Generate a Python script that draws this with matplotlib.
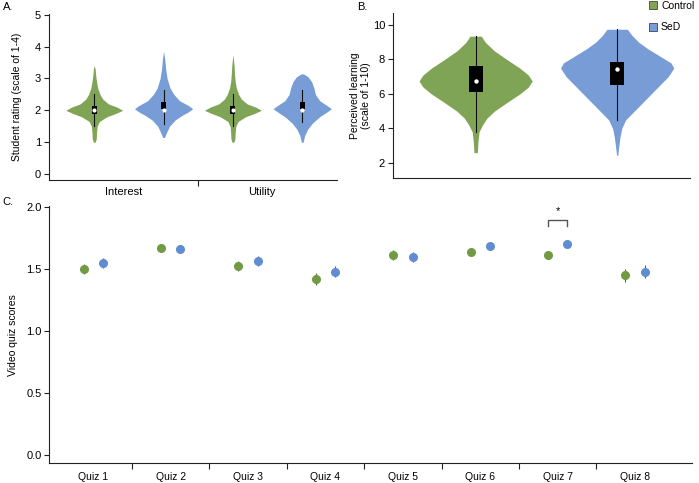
import numpy as np
import matplotlib
matplotlib.use("Agg")
import matplotlib.pyplot as plt
from matplotlib.lines import Line2D

plt.rcParams['font.family'] = ['Liberation Sans', 'DejaVu Sans']

GREEN = "#80a455"
BLUE = "#779cd6"
GREEN_DOT = "#729a44"
BLUE_DOT = "#5f8dd0"
GREEN_ERR = "#4f6e2a"
BLUE_ERR = "#3c5f97"

# ---------------- Panel A data (violin profiles) ----------------
a_groups = ["Interest", "Utility"]
a_positions = [0, 1, 2, 3]
a_colors = [GREEN, BLUE, GREEN, BLUE]
a_max_halfwidth = [0.41, 0.42, 0.41, 0.42]
# profile y-values and relative half-widths
a_prof_y = [
    [1.0, 1.1, 1.3, 1.5, 1.65, 1.8, 1.9, 2.0, 2.1, 2.2, 2.35, 2.5, 2.7, 2.9, 3.1, 3.3, 3.4],
    [1.15, 1.3, 1.5, 1.7, 1.85, 1.95, 2.05, 2.15, 2.3, 2.5, 2.7, 3.0, 3.3, 3.6, 3.85],
    [1.0, 1.1, 1.3, 1.5, 1.65, 1.8, 1.9, 2.0, 2.1, 2.2, 2.35, 2.5, 2.7, 2.9, 3.1, 3.4, 3.75],
    [1.0, 1.2, 1.4, 1.6, 1.8, 1.95, 2.05, 2.15, 2.3, 2.5, 2.7, 2.9, 3.05, 3.12, 3.15],
]
a_prof_w = [
    [0.03, 0.07, 0.08, 0.1, 0.18, 0.45, 0.75, 1.0, 0.8, 0.5, 0.3, 0.2, 0.12, 0.08, 0.05, 0.03, 0.0],
    [0.03, 0.1, 0.2, 0.4, 0.65, 0.85, 1.0, 0.85, 0.55, 0.35, 0.22, 0.12, 0.07, 0.04, 0.0],
    [0.03, 0.07, 0.08, 0.1, 0.18, 0.45, 0.75, 1.0, 0.8, 0.5, 0.3, 0.2, 0.12, 0.08, 0.06, 0.04, 0.0],
    [0.03, 0.08, 0.18, 0.35, 0.6, 0.85, 1.0, 0.85, 0.6, 0.45, 0.4, 0.32, 0.2, 0.08, 0.0],
]
a_q1 = [1.88, 2.05, 1.88, 2.05]
a_q3 = [2.15, 2.26, 2.15, 2.26]
a_med = [2.0, 2.0, 2.0, 2.0]
a_wlo = [1.5, 1.58, 1.5, 1.63]
a_whi = [2.5, 2.65, 2.5, 2.65]

# ---------------- Panel B data ----------------
b_positions = [0, 1]
b_colors = [GREEN, BLUE]
b_max_halfwidth = [0.40, 0.40]
b_prof_y = [
    [2.6, 3.2, 3.8, 4.2, 4.6, 5.0, 5.5, 6.0, 6.4, 6.75, 7.1, 7.5, 8.0, 8.5, 9.0, 9.35],
    [2.45, 3.0, 3.5, 4.0, 4.5, 5.0, 5.5, 6.0, 6.5, 7.0, 7.5, 7.8, 8.2, 8.6, 9.0, 9.4, 9.75],
]
b_prof_w = [
    [0.03, 0.04, 0.06, 0.12, 0.2, 0.33, 0.55, 0.78, 0.93, 1.0, 0.93, 0.78, 0.55, 0.33, 0.17, 0.1],
    [0.01, 0.03, 0.05, 0.08, 0.15, 0.3, 0.45, 0.6, 0.75, 0.9, 1.0, 0.95, 0.75, 0.55, 0.38, 0.26, 0.18],
]
b_q1 = [6.1, 6.5]
b_q3 = [7.6, 7.85]
b_med = [6.73, 7.42]
b_wlo = [3.8, 4.5]
b_whi = [9.35, 9.75]
legend_labels = ["Control", "SeD"]

# ---------------- Panel C data ----------------
quizzes = ["Quiz 1", "Quiz 2", "Quiz 3", "Quiz 4", "Quiz 5", "Quiz 6", "Quiz 7", "Quiz 8"]
control_mean = [1.50, 1.67, 1.525, 1.42, 1.615, 1.64, 1.615, 1.45]
control_err = [0.04, 0.02, 0.04, 0.05, 0.04, 0.02, 0.035, 0.05]
sed_mean = [1.55, 1.665, 1.565, 1.48, 1.60, 1.69, 1.70, 1.48]
sed_err = [0.04, 0.02, 0.04, 0.045, 0.04, 0.02, 0.02, 0.05]

fig = plt.figure(figsize=(6.99, 4.83), dpi=100)

def style_axes(ax):
    for s in ["top", "right"]:
        ax.spines[s].set_visible(False)
    for s in ["left", "bottom"]:
        ax.spines[s].set_color("#222222")
        ax.spines[s].set_linewidth(0.8)
    ax.tick_params(axis="y", length=3.5, width=0.8, color="#222222", labelsize=8, pad=2)

def draw_violins(ax, positions, colors, maxw, ys, ws, q1, q3, med, wlo, whi, boxw, dot):
    for i, p in enumerate(positions):
        y = np.array(ys[i])
        w = np.array(ws[i]) * maxw[i]
        ax.fill_betweenx(y, p - w, p + w, color=colors[i], lw=0, zorder=1)
        ax.plot([p, p], [wlo[i], whi[i]], color="#111111", lw=0.8, zorder=2)
        ax.bar(p, q3[i] - q1[i], bottom=q1[i], width=boxw, color="black", zorder=3)
        ax.scatter([p], [med[i]], s=dot, color="white", zorder=4, lw=0)

# ---------- Panel A ----------
axA = fig.add_axes([0.0694, 0.627, 0.4126, 0.344])
style_axes(axA)
draw_violins(axA, a_positions, a_colors, a_max_halfwidth, a_prof_y, a_prof_w,
             a_q1, a_q3, a_med, a_wlo, a_whi, 0.07, 9)
axA.set_xlim(-0.66, 3.5)
axA.set_ylim(-0.19, 5.02)
axA.set_yticks([0, 1, 2, 3, 4, 5])
axA.set_xticks([0.42, 2.42])
axA.set_xticklabels(a_groups, fontsize=8)
axA.tick_params(axis="x", which="major", length=0, pad=5)
axA.set_xticks([1.49], minor=True)
axA.tick_params(axis="x", which="minor", length=4, width=0.8, color="#222222")
axA.set_ylabel("Student rating (scale of 1-4)", fontsize=7.5, labelpad=9)

# ---------- Panel B ----------
axB = fig.add_axes([0.5618, 0.6315, 0.4252, 0.3422])
style_axes(axB)
draw_violins(axB, b_positions, b_colors, b_max_halfwidth, b_prof_y, b_prof_w,
             b_q1, b_q3, b_med, b_wlo, b_whi, 0.1, 10)
axB.set_xlim(-0.586, 1.514)
axB.set_ylim(1.13, 10.71)
axB.set_yticks([2, 4, 6, 8, 10])
axB.set_xticks([])
axB.set_ylabel("Perceived learning\n(scale of 1-10)", fontsize=7.5, labelpad=1, linespacing=1.1)

handles = [Line2D([], [], marker="s", ls="", markerfacecolor=c, markeredgecolor="#444444",
                  markeredgewidth=0.6, markersize=6) for c in b_colors]
fig.legend(handles, legend_labels, loc="upper left", bbox_to_anchor=(648 / 699, 1 - 1 / 483),
           frameon=False, fontsize=7.5, borderpad=0, borderaxespad=0, handletextpad=0.25,
           labelspacing=1.1, handlelength=1.0)

# ---------- Panel C ----------
axC = fig.add_axes([0.0705, 0.0408, 0.9195, 0.5327])
style_axes(axC)
x = np.arange(len(quizzes))
axC.errorbar(x - 0.125, control_mean, yerr=control_err, fmt="o", color=GREEN_DOT,
             ecolor=GREEN_ERR, elinewidth=0.8, capsize=0, markersize=5.5, zorder=3)
axC.errorbar(x + 0.125, sed_mean, yerr=sed_err, fmt="o", color=BLUE_DOT,
             ecolor=BLUE_ERR, elinewidth=0.8, capsize=0, markersize=5.5, zorder=3)
axC.set_xlim(-0.568, 7.735)
axC.set_ylim(-0.067, 2.01)
axC.set_yticks([0.0, 0.5, 1.0, 1.5, 2.0])
axC.set_yticklabels(["0.0", "0.5", "1.0", "1.5", "2.0"])
axC.set_xticks(x)
axC.set_xticklabels(quizzes, fontsize=7.5)
axC.tick_params(axis="x", which="major", length=0, pad=6)
axC.set_xticks(x[:-1] + 0.5, minor=True)
axC.tick_params(axis="x", which="minor", length=4, width=0.8, color="#222222")
axC.set_ylabel("Video quiz scores", fontsize=7.5, labelpad=6)

# significance bracket over Quiz 7
k = 6
axC.plot([k - 0.125, k - 0.125, k + 0.125, k + 0.125], [1.85, 1.90, 1.90, 1.85],
         color="#555555", lw=1.0)
axC.text(k, 1.93, "*", ha="center", va="bottom", fontsize=8)

# panel labels
fig.text(3 / 699, 1 - 7 / 483, "A.", fontsize=8, va="center", ha="left")
fig.text(357 / 699, 1 - 7 / 483, "B.", fontsize=8, va="center", ha="left")
fig.text(2 / 699, 1 - 202 / 483, "C.", fontsize=8, va="center", ha="left")

fig.savefig("out.png", dpi=100)
